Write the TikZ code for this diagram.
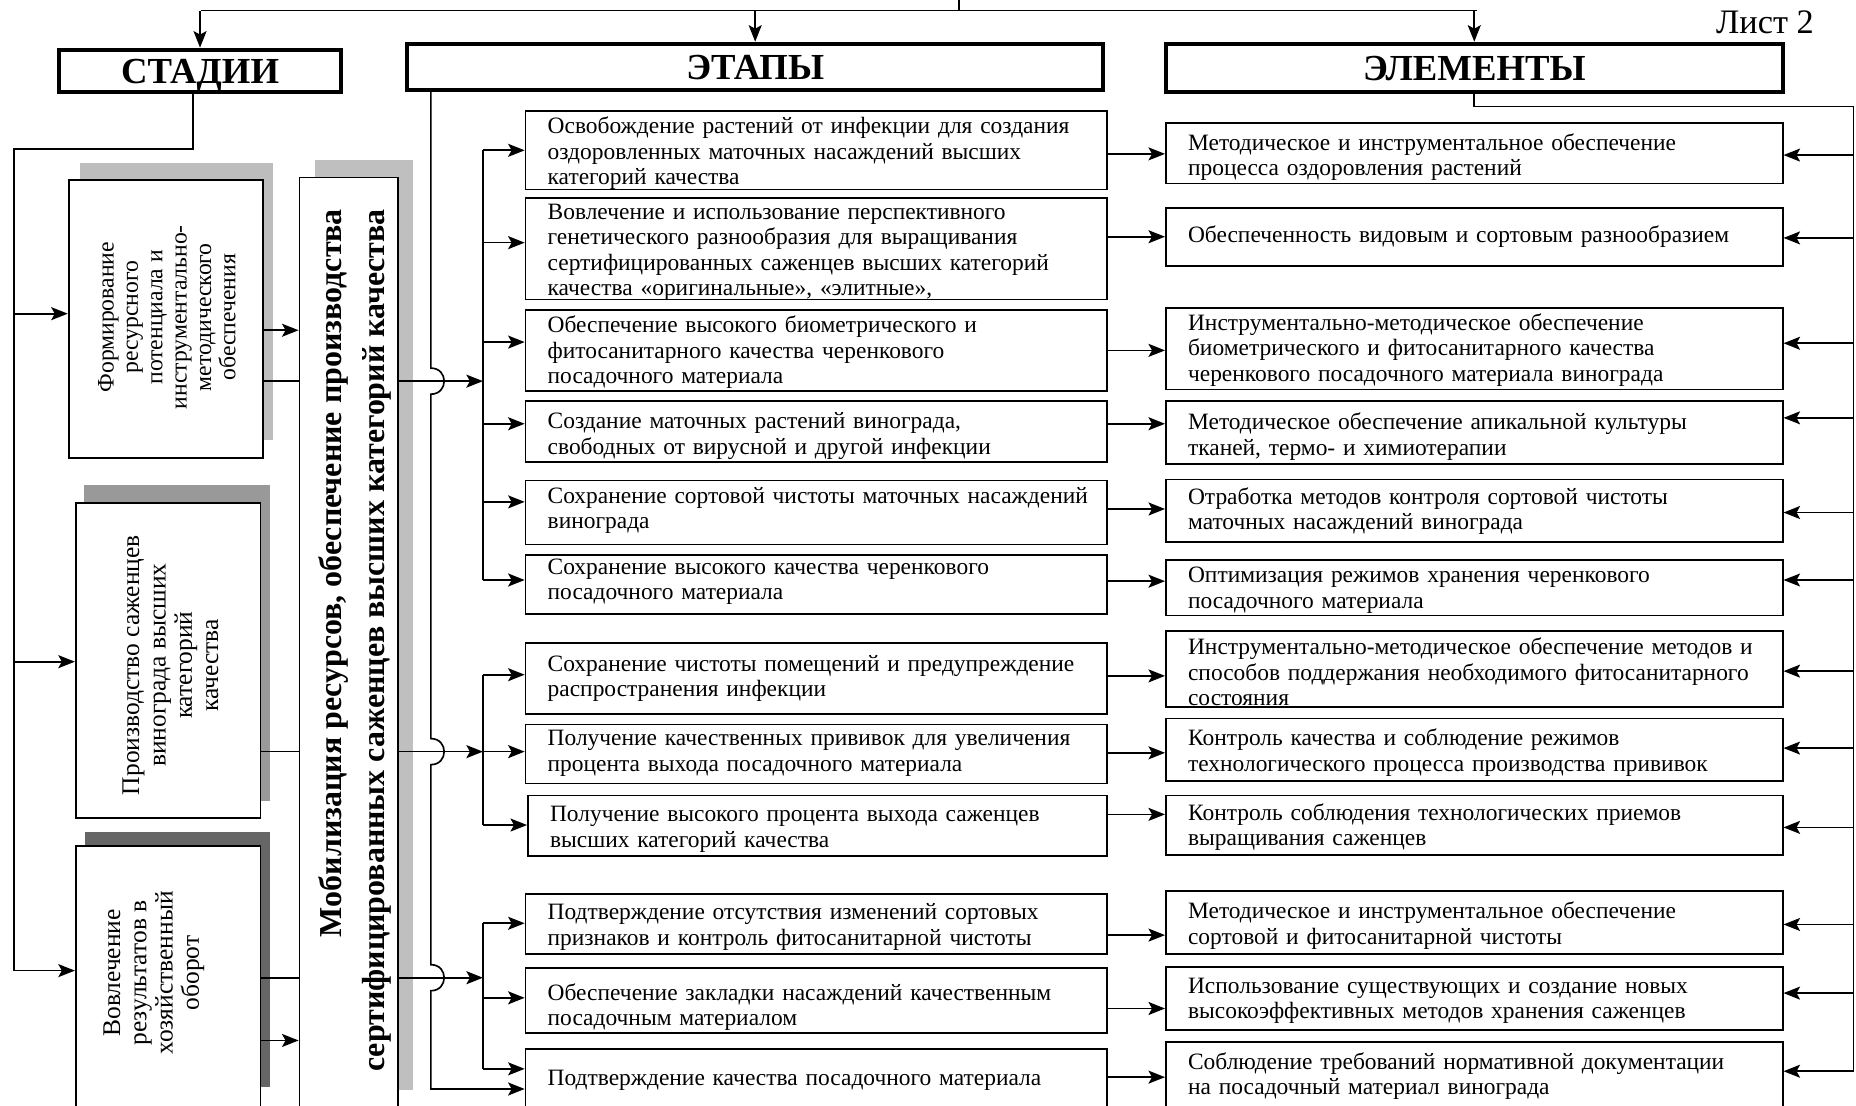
\documentclass[tikz,border=0pt]{standalone}
\usepackage{fontspec}
\setmainfont{Liberation Serif}
\usetikzlibrary{arrows.meta,fit}
\newcommand\tb[7]{%
  \node[bx,fit={(#2,#3) (#4,#5)}] (#1) {};
  \begin{scope}
    \clip (#2,#3) rectangle (#4,#5);
    \node[itxt] (#1t) at (#2+18,#6-10.6) {\strut #7};
  \end{scope}}
\begin{document}
\begin{tikzpicture}[x=1pt,y=-1pt,
  line width=1.4pt,
  arr/.style={-{Stealth[length=14pt,width=11pt,inset=3pt]}},
  head/.style={draw,line width=3.5pt,inner sep=0,text depth=0pt,font=\bfseries\fontsize{31}{31}\selectfont},
  bx/.style={draw,line width=1.5pt,fill=white,inner sep=0},
  itxt/.style={anchor=north west,inner sep=0,text width=560pt,align=left,font=\fontsize{19.8}{21.5}\selectfont},
  rtxt/.style={rotate=90,align=center,inner sep=0,font=\fontsize{20}{20.6}\selectfont},
  rtxtb/.style={rotate=90,align=center,inner sep=0,font=\fontsize{21.5}{22.2}\selectfont},
  shd/.style={fill=#1,draw=none,inner sep=0}
]
\useasboundingbox (0,0) rectangle (1568,934);
\clip (0,0) rectangle (1568,934);

% headers
\node[head,minimum width=238pt,minimum height=36pt] (stadii) at (169,60) {СТАДИИ};
\node[head,minimum width=588pt,minimum height=39pt] (etapy) at (638,56.5) {ЭТАПЫ};
\node[head,minimum width=521pt,minimum height=41pt] (elem) at (1245.5,57.5) {ЭЛЕМЕНТЫ};
\node[font=\fontsize{29}{29}\selectfont,anchor=east,inner sep=0] (list) at (1533,19) {Лист 2};

% top distribution
\coordinate (top) at (810,0);
\draw (top) -- (810,9);
\draw (170,9) -- (1248,9);
\draw[arr] (stadii.north |- 0,9) -- (stadii.north);
\draw[arr] (etapy.north |- 0,9) -- (etapy.north);
\draw[arr] (elem.north |- 0,9) -- (elem.north);

% shadows
\node[shd=black!26,fit={(68,138) (231,372)}] (sh1) {};
\node[shd=black!40,fit={(71,410) (228,677)}] (sh2) {};
\node[shd=black!60,fit={(72,703) (228,918)}] (sh3) {};
\node[shd=black!25,fit={(266,135) (349,921)}] (shm) {};

% stage boxes
\node[bx,fit={(58,152) (222,387)}] (s1) {};
\node[rtxt] (s1t) at (141,268) {Формирование\\ресурсного\\потенциала и\\инструментально-\\методического\\обеспечения};
\node[bx,fit={(64,425) (220,691)}] (s2) {};
\node[rtxtb] (s2t) at (144,562) {Производство саженцев\\винограда высших\\категорий\\качества};
\node[bx,fit={(64,715) (220,950)}] (s3) {};
\node[rtxtb] (s3t) at (130,822) {Вовлечение\\результатов в\\хозяйственный\\оборот};

% mobilisation box
\node[bx,fit={(253,150) (336,950)}] (mob) {};
\node[rotate=90,align=right,inner sep=0,font=\bfseries\fontsize{27}{36}\selectfont] (mobt) at (300,541)
  {Мобилизация ресурсов, обеспечение производства\\сертифицированных саженцев высших категорий качества};

% stage connectors
\draw (stadii.south -| 163,0) -- (163,126) -- (12,126) -- (12,820);
\draw[arr] (12,265) -- (s1.west |- 0,265);
\draw[arr] (12,559) -- (s2.west |- 0,559);
\draw[arr] (12,820) -- (s3.west |- 0,820);
\draw[arr] (s1.east |- 0,279) -- (mob.west |- 0,279);
\draw (s1.east |- 0,322) -- (mob.west |- 0,322);
\draw (s2.east |- 0,635) -- (mob.west |- 0,635);
\draw (s3.east |- 0,826) -- (mob.west |- 0,826);
\draw[arr] (s3.east |- 0,879) -- (mob.west |- 0,879);

% items (stages of work)
\tb{i1}{444}{94}{935}{160}{108}{Освобождение растений от инфекции для создания\\оздоровленных маточных насаждений высших\\категорий качества}
\tb{i2}{444}{167}{935}{253}{180}{Вовлечение и использование перспективного\\генетического разнообразия для выращивания\\сертифицированных саженцев высших категорий\\качества «оригинальные», «элитные»,}
\tb{i3}{444}{262}{935}{330}{276}{Обеспечение высокого биометрического и\\фитосанитарного качества черенкового\\посадочного материала}
\tb{i4}{444}{339}{935}{390}{357}{Создание маточных растений винограда,\\свободных от вирусной и другой инфекции}
\tb{i5}{444}{406}{935}{460}{420}{Сохранение сортовой чистоты маточных насаждений\\винограда}
\tb{i6}{444}{469}{935}{519}{480}{Сохранение высокого качества черенкового\\посадочного материала}
\tb{i7}{444}{543}{935}{603}{562}{Сохранение чистоты помещений и предупреждение\\распространения инфекции}
\tb{i8}{444}{612}{935}{662}{625}{Получение качественных прививок для увеличения\\процента выхода посадочного материала}
\tb{i9}{446}{672}{935}{723}{689}{Получение высокого процента выхода саженцев\\высших категорий качества}
\tb{i10}{444}{755}{935}{806}{772}{Подтверждение отсутствия изменений сортовых\\признаков и контроль фитосанитарной чистоты}
\tb{i11}{444}{818}{935}{873}{840}{Обеспечение закладки насаждений качественным\\посадочным материалом}
\tb{i12}{444}{886}{935}{950}{912}{Подтверждение качества посадочного материала}

% elements
\tb{e1}{985}{104}{1506}{155}{122}{Методическое и инструментальное обеспечение\\процесса оздоровления растений}
\tb{e2}{985}{176}{1506}{225}{200}{Обеспеченность видовым и сортовым разнообразием}
\tb{e3}{985}{260}{1506}{329}{274}{Инструментально-методическое обеспечение\\биометрического и фитосанитарного качества\\черенкового посадочного материала винограда}
\tb{e4}{985}{339}{1506}{392}{358}{Методическое обеспечение апикальной культуры\\тканей, термо- и химиотерапии}
\tb{e5}{985}{405}{1506}{458}{421}{Отработка методов контроля сортовой чистоты\\маточных насаждений винограда}
\tb{e6}{985}{473}{1506}{520}{487}{Оптимизация режимов хранения черенкового\\посадочного материала}
\tb{e7}{985}{533}{1506}{597}{548}{Инструментально-методическое обеспечение методов и\\способов поддержания необходимого фитосанитарного\\состояния}
\tb{e8}{985}{607}{1506}{660}{625}{Контроль качества и соблюдение режимов\\технологического процесса производства прививок}
\tb{e9}{985}{672}{1506}{722}{688}{Контроль соблюдения технологических приемов\\выращивания саженцев}
\tb{e10}{985}{753}{1506}{806}{771}{Методическое и инструментальное обеспечение\\сортовой и фитосанитарной чистоты}
\tb{e11}{985}{817}{1506}{870}{834}{Использование существующих и создание новых\\высокоэффективных методов хранения саженцев}
\tb{e12}{985}{880}{1506}{950}{898}{Соблюдение требований нормативной документации\\на посадочный материал винограда}

% ETAPY trunk with hops
\draw[arr] (etapy.south -| 364,0) -- (364,311) .. controls (379,311) and (379,333) .. (364,333)
  -- (364,624) .. controls (379,624) and (379,646) .. (364,646)
  -- (364,815) .. controls (379,815) and (379,837) .. (364,837)
  -- (364,920) -- (i12.west |- 0,920);

% mobilisation to groups
\draw[arr] (mob.east |- 0,322) -- (408,322);
\draw[arr] (mob.east |- 0,635) -- (408,635);
\draw[arr] (mob.east |- 0,826) -- (408,826);

% group brackets
\draw (408,127) -- (408,490);
\draw[arr] (408,127) -- (i1.west |- 0,127);
\draw[arr] (408,205) -- (i2.west |- 0,205);
\draw[arr] (408,289) -- (i3.west |- 0,289);
\draw[arr] (408,358) -- (i4.west |- 0,358);
\draw[arr] (408,424) -- (i5.west |- 0,424);
\draw[arr] (408,490) -- (i6.west |- 0,490);
\draw (408,570) -- (408,697);
\draw[arr] (408,570) -- (i7.west |- 0,570);
\draw[arr] (408,635) -- (i8.west |- 0,635);
\draw[arr] (408,697) -- (i9.west |- 0,697);
\draw (408,780) -- (408,903);
\draw[arr] (408,780) -- (i10.west |- 0,780);
\draw[arr] (408,843) -- (i11.west |- 0,843);
\draw[arr] (408,903) -- (i12.west |- 0,903);

% items to elements
\draw[arr] (i1.east |- 0,130) -- (e1.west |- 0,130);
\draw[arr] (i2.east |- 0,200) -- (e2.west |- 0,200);
\draw[arr] (i3.east |- 0,296) -- (e3.west |- 0,296);
\draw[arr] (i4.east |- 0,358) -- (e4.west |- 0,358);
\draw[arr] (i5.east |- 0,430) -- (e5.west |- 0,430);
\draw[arr] (i6.east |- 0,491) -- (e6.west |- 0,491);
\draw[arr] (i7.east |- 0,571) -- (e7.west |- 0,571);
\draw[arr] (i8.east |- 0,636) -- (e8.west |- 0,636);
\draw[arr] (i9.east |- 0,688) -- (e9.west |- 0,688);
\draw[arr] (i10.east |- 0,790) -- (e10.west |- 0,790);
\draw[arr] (i11.east |- 0,852) -- (e11.west |- 0,852);
\draw[arr] (i12.east |- 0,910) -- (e12.west |- 0,910);

% elements spine
\draw (elem.south) -- (elem.south |- 0,90) -- (1566,90) -- (1566,905);
\draw[arr] (1566,131) -- (e1.east |- 0,131);
\draw[arr] (1566,201) -- (e2.east |- 0,201);
\draw[arr] (1566,290) -- (e3.east |- 0,290);
\draw[arr] (1566,353) -- (e4.east |- 0,353);
\draw[arr] (1566,433) -- (e5.east |- 0,433);
\draw[arr] (1566,490) -- (e6.east |- 0,490);
\draw[arr] (1566,567) -- (e7.east |- 0,567);
\draw[arr] (1566,632) -- (e8.east |- 0,632);
\draw[arr] (1566,699) -- (e9.east |- 0,699);
\draw[arr] (1566,781) -- (e10.east |- 0,781);
\draw[arr] (1566,839) -- (e11.east |- 0,839);
\draw[arr] (1566,905) -- (e12.east |- 0,905);
\end{tikzpicture}
\end{document}
